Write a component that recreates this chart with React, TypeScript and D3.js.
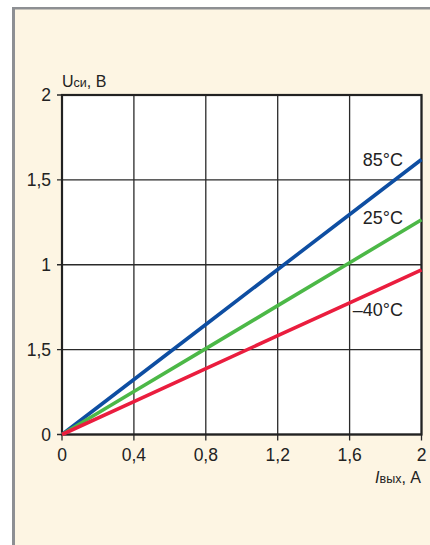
import React from "react";
import * as d3 from "d3";

const xTicks = [0, 0.4, 0.8, 1.2, 1.6, 2];
const xTickLabels = ["0", "0,4", "0,8", "1,2", "1,6", "2"];
const yTicks = [0, 0.5, 1, 1.5, 2];
const yTickLabels = ["0", "1,5", "1", "1,5", "2"];

const currents = [0, 0.4, 0.8, 1.2, 1.6, 2];
const u85 = [0, 0.324, 0.648, 0.972, 1.296, 1.62];
const u25 = [0, 0.253, 0.506, 0.759, 1.012, 1.265];
const uMinus40 = [0, 0.194, 0.388, 0.582, 0.776, 0.97];

const seriesNames = ["85°C", "25°C", "–40°C"];
const seriesValues = [u85, u25, uMinus40];
const seriesColors = ["#0e4ea2", "#4cb847", "#ea1d3e"];
const labelBaselines = [166, 224, 316];

const W = 430;
const H = 545;
const left = 62;
const right = 421.5;
const top = 95;
const bottom = 434.5;

const font = "'Liberation Sans Narrow', 'Liberation Sans', Arial, sans-serif";

export default function App() {
  const x = d3.scaleLinear().domain([0, 2]).range([left, right]);
  const y = d3.scaleLinear().domain([0, 2]).range([bottom, top]);
  const line = d3
    .line<number>()
    .x((_, i) => x(currents[i]))
    .y((d) => y(d));

  return (
    <svg
      width={W}
      height={H}
      style={{ position: "absolute", left: 0, top: 0, display: "block" }}
      fontFamily={font}
    >
      <rect x={0} y={0} width={W} height={H} fill="#ffffff" />
      <rect x={12} y={7} width={W - 12} height={H - 7} fill="#fdf5e3" />
      <rect x={12} y={7} width={3} height={H - 7} fill="#8d8f93" />
      <rect x={12} y={7} width={W - 12} height={2.5} fill="#8d8f93" />

      <rect x={left} y={top} width={right - left} height={bottom - top} fill="#ffffff" />

      {xTicks.map((t, i) => (
        <g key={"x" + i}>
          <line x1={x(t)} x2={x(t)} y1={top} y2={bottom + 6} stroke="#2a2a2a" strokeWidth={1.3} />
          <text x={x(t)} y={461} fontSize={17.5} textAnchor="middle" fill="#222">
            {xTickLabels[i]}
          </text>
        </g>
      ))}
      {yTicks.map((t, i) => (
        <g key={"y" + i}>
          <line x1={left - 5} x2={right} y1={y(t)} y2={y(t)} stroke="#2a2a2a" strokeWidth={1.3} />
          <text x={51} y={y(t) + 6.2} fontSize={17.5} textAnchor="end" fill="#222">
            {yTickLabels[i]}
          </text>
        </g>
      ))}

      <rect
        x={left}
        y={top}
        width={right - left}
        height={bottom - top}
        fill="none"
        stroke="#222"
        strokeWidth={2.2}
      />

      {seriesValues.map((vals, i) => (
        <path
          key={"s" + i}
          d={line(vals) || ""}
          fill="none"
          stroke={seriesColors[i]}
          strokeWidth={3.6}
        />
      ))}

      {seriesNames.map((n, i) => (
        <text key={"l" + i} x={403} y={labelBaselines[i]} fontSize={18} textAnchor="end" fill="#222">
          {n}
        </text>
      ))}

      <text x={62} y={87} fontSize={16} fill="#222">
        U<tspan fontSize={12.5}>си</tspan>, В
      </text>
      <text x={421} y={483} fontSize={16} textAnchor="end" fill="#222">
        <tspan fontStyle="italic">I</tspan>
        <tspan fontSize={12.5}>вых</tspan>, А
      </text>
    </svg>
  );
}
